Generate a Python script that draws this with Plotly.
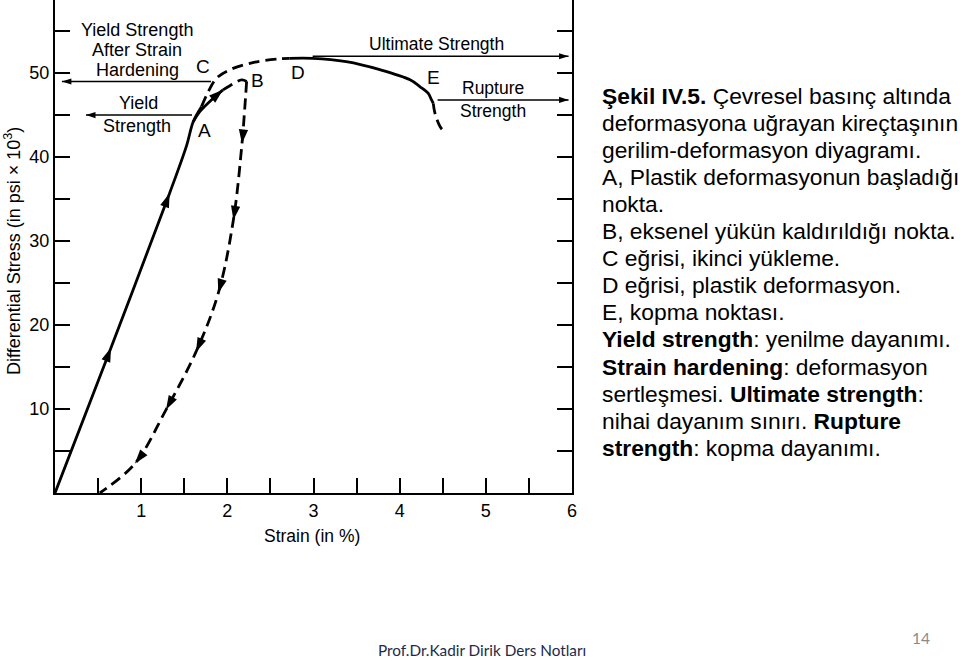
import math
import plotly.graph_objects as go

# ---------------- data (strain in %, stress in psi x 10^3) ----------------
load_strain = [0.0, 0.65, 1.33, 1.528, 1.604, 1.70]
load_stress = [0.0, 17.3, 35.7, 41.4, 44.2, 46.0]

ab_solid_strain = [1.604, 1.68, 1.836, 1.95]
ab_solid_stress = [44.2, 45.4, 47.0, 48.0]
ab_dash_strain = [1.95, 2.03, 2.166, 2.224]
ab_dash_stress = [48.0, 48.5, 49.2, 49.0]

unload_strain = [2.224, 2.20, 2.17, 2.07, 1.895, 1.636, 1.288, 0.928, 0.52]
unload_stress = [49.0, 45.5, 41.6, 32.5, 23.8, 16.8, 9.9, 3.5, 0.0]

reload_strain = [1.70, 1.78, 1.876, 2.03, 2.32, 2.61, 2.72]
reload_stress = [46.0, 47.8, 49.4, 50.4, 51.3, 51.7, 51.75]

plastic_strain = [2.72, 2.99, 3.38, 3.77, 4.12, 4.234, 4.33, 4.37, 4.39]
plastic_stress = [51.75, 51.75, 51.35, 50.4, 49.2, 48.4, 47.6, 46.8, 46.4]

rupture_strain = [4.39, 4.41, 4.47, 4.52]
rupture_stress = [46.4, 45.2, 43.6, 43.0]

# arrow positions (indices into the curves above)
load_arrows = [1, 2]
ab_arrows = [3]
unload_arrows = [2, 3, 4, 5, 6, 7]

# reference levels
yield_hardened = 49.0
yield_strength = 45.0
ultimate_strength = 52.0
rupture_level = 46.8

x_tickvals = [1, 2, 3, 4, 5, 6]
x_ticktext = ["1", "2", "3", "4", "5", "6"]
y_tickvals = [10, 20, 30, 40, 50]
y_ticktext = ["10", "20", "30", "40", "50"]

caption_lines = [
    "<b>Şekil IV.5.</b> Çevresel basınç altında",
    "deformasyona uğrayan kireçtaşının",
    "gerilim-deformasyon diyagramı.",
    "A, Plastik deformasyonun başladığı",
    "nokta.",
    "B, eksenel yükün kaldırıldığı nokta.",
    "C eğrisi, ikinci yükleme.",
    "D eğrisi, plastik deformasyon.",
    "E, kopma noktası.",
    "<b>Yield strength</b>: yenilme dayanımı.",
    "<b>Strain hardening</b>: deformasyon",
    "sertleşmesi. <b>Ultimate strength</b>:",
    "nihai dayanım sınırı. <b>Rupture</b>",
    "<b>strength</b>: kopma dayanımı.",
]

# ---------------- layout constants ----------------
W, H = 960, 660
ML, MR, MT, MB = 55, 388, 0, 167
XMIN, XMAX = 0.0, 6.0
YMIN, YMAX = 0.0, 58.7
PW = W - ML - MR
PH = H - MT - MB
PX_X = PW / (XMAX - XMIN)
PX_Y = PH / (YMAX - YMIN)

FONT = "Liberation Sans, Arial, sans-serif"
LW = 2.8
DASH = "11px,6px"


def px_to_paper(px, py):
    return (px - ML) / PW, (H - MB - py) / PH


def tangent_angle(xs, ys, i):
    j0 = max(i - 1, 0)
    j1 = min(i + 1, len(xs) - 1)
    dx = (xs[j1] - xs[j0]) * PX_X
    dy = (ys[j1] - ys[j0]) * PX_Y
    return math.degrees(math.atan2(dx, dy))


fig = go.Figure()


def add_curve(xs, ys, dash=None, width=LW):
    fig.add_trace(go.Scatter(
        x=xs, y=ys, mode="lines",
        line=dict(color="black", width=width, dash=dash or "solid",
                  shape="spline", smoothing=1.0),
        hoverinfo="skip", showlegend=False))


add_curve(load_strain, load_stress)
add_curve(ab_solid_strain, ab_solid_stress)
add_curve(ab_dash_strain, ab_dash_stress, DASH)
add_curve(unload_strain, unload_stress, DASH)
add_curve(reload_strain, reload_stress, DASH)
add_curve(plastic_strain, plastic_stress)
add_curve(rupture_strain, rupture_stress, DASH)


def add_arrows(xs, ys, idxs):
    fig.add_trace(go.Scatter(
        x=[xs[i] for i in idxs], y=[ys[i] for i in idxs], mode="markers",
        marker=dict(symbol="arrow", size=15, color="black",
                    angle=[tangent_angle(xs, ys, i) for i in idxs],
                    line=dict(width=0)),
        hoverinfo="skip", showlegend=False))


add_arrows(load_strain, load_stress, load_arrows)
add_arrows(ab_solid_strain, ab_solid_stress, ab_arrows)
add_arrows(unload_strain, unload_stress, unload_arrows)


def ref_arrow(x_tip, x_tail, y):
    fig.add_trace(go.Scatter(
        x=[x_tail, x_tip], y=[y, y], mode="lines",
        line=dict(color="black", width=1.5),
        hoverinfo="skip", showlegend=False))
    fig.add_trace(go.Scatter(
        x=[x_tip], y=[y], mode="markers",
        marker=dict(symbol="arrow", size=10, color="black",
                    angle=90 if x_tip > x_tail else -90, line=dict(width=0)),
        hoverinfo="skip", showlegend=False))


ref_arrow(0.08, 1.81, yield_hardened)
ref_arrow(0.36, 1.59, yield_strength)
ref_arrow(5.96, 2.99, ultimate_strength)
ref_arrow(5.96, 4.44, rupture_level)

annotations = []


def label(px, py, text, size=18, xanchor="center", color="black", family=FONT):
    xp, yp = px_to_paper(px, py)
    annotations.append(dict(
        x=xp, y=yp, xref="paper", yref="paper", text=text, showarrow=False,
        xanchor=xanchor, yanchor="middle",
        font=dict(family=family, size=size, color=color)))


# labels inside the chart
label(137, 30, "Yield Strength")
label(137, 50, "After Strain")
label(137, 70, "Hardening")
label(138, 103, "Yield")
label(137, 126, "Strength")
label(436, 44, "Ultimate Strength", 17.5)
label(493, 88, "Rupture", 17.5)
label(493, 111, "Strength", 17.5)
label(203, 67, "C", 19)
label(257, 81, "B", 19)
label(204, 130, "A", 19)
label(298, 72, "D", 19)
label(433, 77, "E", 19)

# axis titles
label(312, 536, "Strain (in %)", 17.5)
xp, yp = px_to_paper(12, 251)
annotations.append(dict(
    x=xp, y=yp, xref="paper", yref="paper",
    text="Differential Stress (in psi × 10<sup>3</sup>)", showarrow=False,
    textangle=-90, xanchor="center", yanchor="middle",
    font=dict(family=FONT, size=18, color="black")))

# caption text block
for k, line in enumerate(caption_lines):
    label(600, 96 + 27.05 * k, line, 22.8, xanchor="left")

# footer
label(376, 650, "Prof.Dr.Kadir Dirik Ders Notları", 15.3, xanchor="left",
      color="#1c2b4a", family="Lato, Open Sans, sans-serif")
label(921, 638, "14", 15.5, color="#8a8a8a", family="Lato, Open Sans, sans-serif")

tick_common = dict(ticks="inside", ticklen=15, tickwidth=1.5, tickcolor="black",
                   showline=True, linecolor="black", linewidth=2,
                   showgrid=False, zeroline=False,
                   tickfont=dict(family=FONT, size=18, color="black"))

fig.update_layout(
    width=W, height=H,
    margin=dict(l=ML, r=MR, t=MT, b=MB, pad=0),
    paper_bgcolor="white", plot_bgcolor="white",
    showlegend=False,
    annotations=annotations,
    xaxis=dict(range=[XMIN, XMAX], tickmode="array", tickvals=x_tickvals,
               ticktext=x_ticktext, mirror=False,
               minor=dict(tick0=0, dtick=0.5, ticks="inside", ticklen=15,
                          tickwidth=1.5, tickcolor="black", showgrid=False),
               **tick_common),
    yaxis=dict(range=[YMIN, YMAX], tickmode="array", tickvals=y_tickvals,
               ticktext=y_ticktext, mirror="ticks",
               minor=dict(tick0=0, dtick=5, ticks="inside", ticklen=15,
                          tickwidth=1.5, tickcolor="black", showgrid=False),
               **tick_common),
)

fig.write_html("out.html")
